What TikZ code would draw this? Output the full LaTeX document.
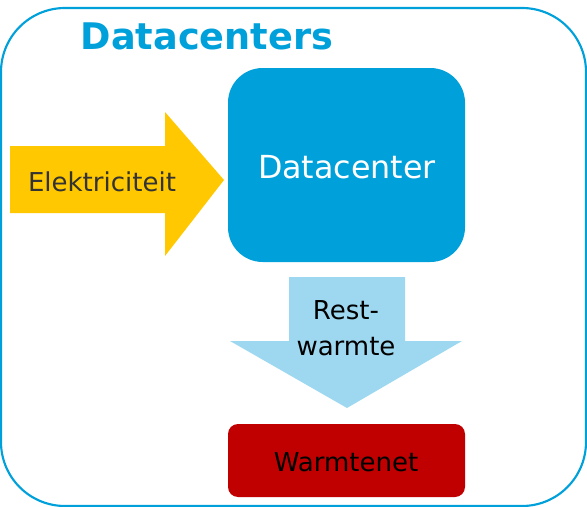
\documentclass[tikz,border=0pt]{standalone}
\usepackage{fontspec}
\setmainfont{DejaVu Sans}
\definecolor{dcblue}{RGB}{0,160,218}
\definecolor{elyellow}{RGB}{255,200,0}
\definecolor{restblue}{RGB}{157,216,240}
\definecolor{netred}{RGB}{192,0,0}
\definecolor{txtgray}{RGB}{51,51,51}
\tikzset{
  lbl/.style={inner sep=0pt, align=center},
  boxstyle/.style={inner sep=0pt, anchor=north west},
}
\begin{document}
\begin{tikzpicture}[x=0.75pt,y=-0.75pt]
\useasboundingbox (0,0) rectangle (587,507);
% outer frame
\draw[dcblue, line width=1.6pt, rounded corners=48pt] (1,8) rectangle (586,506);
% title
\node[lbl, text=dcblue, font=\fontsize{27.5}{30}\selectfont\bfseries] (title) at (207,36) {Datacenters};
% yellow arrow
\fill[elyellow] (10,146) -- (165,146) -- (165,112) -- (224,180) -- (165,256) -- (165,213) -- (10,213) -- cycle;
\node[lbl, text=txtgray, font=\fontsize{19.5}{22}\selectfont] (elek) at (102,182) {Elektriciteit};
% datacenter box
\fill[dcblue, rounded corners=26pt] (228,68) rectangle (465,262);
\node[lbl, text=white, font=\fontsize{23.8}{26}\selectfont] (dc) at (347,167) {Datacenter};
% light blue arrow
\fill[restblue] (289,277) -- (405,277) -- (405,341) -- (462,341) -- (347,408) -- (230,341) -- (289,341) -- cycle;
\node[lbl, text=black, font=\fontsize{19.5}{27}\selectfont] (rest) at (346,328) {Rest-\\warmte};
% red box
\fill[netred, rounded corners=7.5pt] (228,424) rectangle (465,497);
\node[lbl, text=black, font=\fontsize{19.5}{22}\selectfont] (net) at (346,462) {Warmtenet};
\end{tikzpicture}
\end{document}
